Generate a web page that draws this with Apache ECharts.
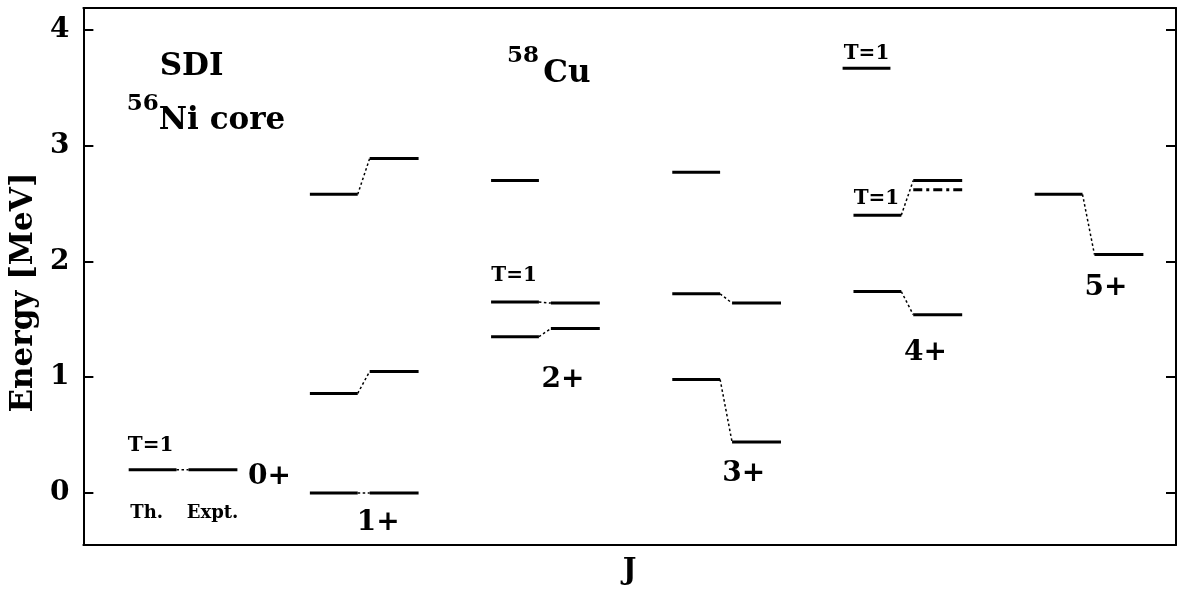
<!DOCTYPE html>
<html>
<head>
<meta charset="utf-8">
<script src="https://cdn.jsdelivr.net/npm/echarts@6/dist/echarts.min.js"></script>
<style>
  html, body { margin: 0; padding: 0; background: #fff; }
  #chart { width: 1190px; height: 595px; }
</style>
</head>
<body>
<div id="chart"></div>
<script>
// 58Cu level scheme: SDI shell model (Th.) vs experiment (Expt.)
const spinLabels = ['0+', '1+', '2+', '3+', '4+', '5+'];
// one entry per level pair: spin group, theoretical and experimental energy (MeV)
const pairSpin = [0, 1, 1, 1, 2, 2, 2, 3, 3, 3, 4, 4, 4, 5];
const thEnergy = [0.20, 0.00, 0.86, 2.58, 1.35, 1.65, 2.70, 0.98, 1.72, 2.77, 1.74, 2.40, 3.67, 2.58];
const exEnergy = [0.20, 0.00, 1.05, 2.89, 1.42, 1.64, null, 0.44, 1.64, null, 1.54, 2.70, null, 2.06];
// tentative experimental level (dash-dot)
const tentSpin = [4];
const tentEnergy = [2.62];
const yTicks = [0, 1, 2, 3, 4];

// layout of the level scheme within a spin group (x in group units)
const TH_X0 = 0.0, TH_X1 = 0.264, EX_X0 = 0.33, EX_X1 = 0.6;
const levelShift = { 12: -0.06 };   // lone T=1 level nudged left under its label

const segments = [];
pairSpin.forEach((j, i) => {
  const s = levelShift[i] || 0;
  segments.push([j + TH_X0 + s, j + TH_X1 + s, thEnergy[i], thEnergy[i], 0]);
  if (exEnergy[i] !== null) {
    segments.push([j + EX_X0, j + EX_X1, exEnergy[i], exEnergy[i], 0]);
    segments.push([j + TH_X1, j + EX_X0, thEnergy[i], exEnergy[i], 1]);
  }
});
tentSpin.forEach((j, i) => {
  segments.push([j + EX_X0, j + EX_X1, tentEnergy[i], tentEnergy[i], 2]);
});

const FONT = 'DejaVu Serif';
// text annotations: [x, y, text, fontSize]
const spinLabelAt = [[0.777, 0.138], [1.377, -0.259], [2.397, 0.976], [3.394, 0.164], [4.397, 1.209], [5.394, 1.771]];
const notes = [
  [0.347, 3.680, 'SDI', 31],
  [0.077, 3.361, '56', 23],
  [0.515, 3.214, 'Ni core', 31],
  [2.176, 3.775, '58', 23],
  [2.418, 3.620, 'Cu', 31],
  [0.121, 0.406, 'T=1', 20],
  [2.127, 1.875, 'T=1', 20],
  [4.127, 2.540, 'T=1', 20],
  [4.072, 3.793, 'T=1', 20],
  [0.099, -0.173, 'Th.', 18],
  [0.463, -0.173, 'Expt.', 18]
];
spinLabels.forEach((t, j) => notes.push([spinLabelAt[j][0], spinLabelAt[j][1], t, 28]));

const chart = echarts.init(document.getElementById('chart'));
const noteData = notes.map(n => ({
  value: [n[0], n[1]],
  label: { formatter: n[2], fontSize: n[3], color: '#000' }
}));

chart.setOption({
  backgroundColor: '#fff',
  animation: false,
  grid: { left: 82, right: 14, top: 8, bottom: 50 },
  xAxis: [{
    type: 'value', min: -0.25, max: 5.78,
    name: 'J', nameLocation: 'middle', nameGap: 12,
    nameTextStyle: { fontFamily: FONT, fontWeight: 'bold', fontSize: 29, color: '#000' },
    axisLine: { show: true, onZero: false, lineStyle: { color: '#000', width: 2 } },
    axisTick: { show: false }, axisLabel: { show: false }, splitLine: { show: false }
  }, {
    type: 'value', min: -0.25, max: 5.78, position: 'top',
    axisLine: { show: true, onZero: false, lineStyle: { color: '#000', width: 2 } },
    axisTick: { show: false }, axisLabel: { show: false }, splitLine: { show: false }
  }],
  yAxis: [{
    type: 'value', min: -0.45, max: 4.19,
    name: 'Energy [MeV]', nameLocation: 'middle', nameGap: 44, nameRotate: 90,
    nameTextStyle: { fontFamily: FONT, fontWeight: 'bold', fontSize: 31, color: '#000', padding: [0, 32, 0, 0] },
    axisLine: { show: true, onZero: false, lineStyle: { color: '#000', width: 2 } },
    axisTick: { show: true, inside: true, length: 10, customValues: yTicks, lineStyle: { color: '#000', width: 2 } },
    axisLabel: { show: true, customValues: yTicks, margin: 14, fontFamily: FONT, fontWeight: 'bold', fontSize: 28, color: '#000' },
    splitLine: { show: false }
  }, {
    type: 'value', min: -0.45, max: 4.19, position: 'right',
    axisLine: { show: true, onZero: false, lineStyle: { color: '#000', width: 2 } },
    axisTick: { show: true, inside: true, length: 10, customValues: yTicks, lineStyle: { color: '#000', width: 2 } },
    axisLabel: { show: false }, splitLine: { show: false }
  }],
  series: [{
    type: 'custom',
    coordinateSystem: 'cartesian2d',
    xAxisIndex: 0, yAxisIndex: 0,
    encode: { x: [0, 1], y: [2, 3] },
    data: segments,
    silent: true,
    renderItem(params, api) {
      const a = api.coord([api.value(0), api.value(2)]);
      const b = api.coord([api.value(1), api.value(3)]);
      const kind = api.value(4);
      const style = kind === 1
        ? { stroke: '#000', lineWidth: 1.5, lineDash: [2.5, 2.5] }
        : kind === 2
          ? { stroke: '#000', lineWidth: 3, lineDash: [9, 4, 3, 4] }
          : { stroke: '#000', lineWidth: 3 };
      return { type: 'line', shape: { x1: a[0], y1: a[1], x2: b[0], y2: b[1] }, style };
    }
  }, {
    type: 'scatter',
    xAxisIndex: 0, yAxisIndex: 0,
    symbolSize: 0,
    silent: true,
    itemStyle: { opacity: 1 },
    data: noteData,
    label: {
      show: true, position: [0, 0], align: 'center', verticalAlign: 'middle',
      fontFamily: FONT, fontWeight: 'bold', color: '#000', opacity: 1, textBorderWidth: 0
    }
  }]
});
</script>
</body>
</html>
